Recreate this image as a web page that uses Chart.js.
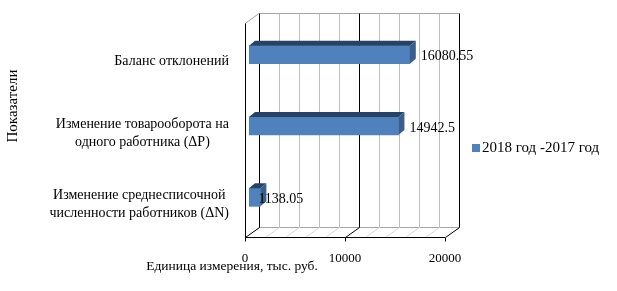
<!DOCTYPE html>
<html>
<head>
<meta charset="utf-8">
<script src="https://cdn.jsdelivr.net/npm/chart.js@4.4.0/dist/chart.umd.min.js"></script>
<style>
html, body { margin: 0; padding: 0; background: #fff; }
</style>
</head>
<body>
<canvas id="myChart" width="617" height="291"></canvas>
<script>
// data
var categories = [
	["Баланс отклонений"],
	["Изменение товарооборота на", "одного работника (ΔP)"],
	["Изменение среднесписочной", "численности работников (ΔN)"]
];
var seriesName = "2018 год -2017 год";
var values = [16080.55, 14942.5, 1138.05];
var valueLabels = ["16080.55", "14942.5", "1138.05"];
var xTicks = [0, 10000, 20000];
var xGridStep = 2000;
var xTitle = "Единица измерения, тыс. руб.";
var yTitle = "Показатели";

var FAMILY = '"Liberation Serif", "Times New Roman", serif';
var DX = 14, DY = 10;          // depth of the 3d box
var SHIFT_X = 4, SHIFT_Y = 4;  // bar front face offset inside the box
var BAR_DX = 6, BAR_DY = 5;    // bar depth

function seg(ctx, x1, y1, x2, y2, color) {
	ctx.strokeStyle = color;
	ctx.beginPath();
	ctx.moveTo(x1, y1);
	ctx.lineTo(x2, y2);
	ctx.stroke();
}

var box3d = {
	id: 'box3d',
	beforeDatasetsDraw: function (chart) {
		var ctx = chart.ctx, a = chart.chartArea, xs = chart.scales.x;
		var top = a.top + 0.5, bot = Math.round(a.bottom) + 0.5;
		ctx.save();
		ctx.lineWidth = 1;
		// back wall top and floor edges
		seg(ctx, a.left + DX, top - DY, a.right + DX, top - DY, '#a6a6a6');
		seg(ctx, a.left + DX, bot - DY, a.right + DX, bot - DY, '#a6a6a6');
		seg(ctx, a.left, top, a.left + DX, top - DY, '#a6a6a6');
		// gridlines on back wall + floor
		for (var v = 0; v <= xs.max; v += xGridStep) {
			var x = Math.round(xs.getPixelForValue(v)) + 0.5;
			var major = xTicks.indexOf(v) >= 0;
			seg(ctx, x + DX, top - DY, x + DX, bot - DY, major ? '#000' : '#bfbfbf');
			seg(ctx, x, bot, x + DX, bot - DY, major ? '#000' : '#d9d9d9');
			if (major) seg(ctx, x, bot, x, bot + 4, '#000');
		}
		// left wall and front floor edge
		seg(ctx, Math.round(a.left) + 0.5, top, Math.round(a.left) + 0.5, bot, '#000');
		seg(ctx, a.left, bot, a.right, bot, '#000');
		ctx.restore();

		ctx.save();
		ctx.translate(SHIFT_X, -SHIFT_Y);
	},
	afterDatasetsDraw: function (chart) {
		var ctx = chart.ctx;
		ctx.restore();
		var bars = chart.getDatasetMeta(0).data;
		ctx.save();
		ctx.translate(SHIFT_X, -SHIFT_Y);
		bars.forEach(function (b, i) {
			var x0 = b.base, x1 = b.x, y0 = b.y - b.height / 2, y1 = b.y + b.height / 2;
			// top face
			ctx.fillStyle = '#264266';
			ctx.beginPath();
			ctx.moveTo(x0, y0);
			ctx.lineTo(x0 + BAR_DX, y0 - BAR_DY);
			ctx.lineTo(x1 + BAR_DX, y0 - BAR_DY);
			ctx.lineTo(x1, y0);
			ctx.closePath();
			ctx.fill();
			// side face
			ctx.fillStyle = '#3a5f8c';
			ctx.beginPath();
			ctx.moveTo(x1, y0);
			ctx.lineTo(x1 + BAR_DX, y0 - BAR_DY);
			ctx.lineTo(x1 + BAR_DX, y1 - BAR_DY);
			ctx.lineTo(x1, y1);
			ctx.closePath();
			ctx.fill();
			// value label
			ctx.fillStyle = '#000';
			ctx.font = '14px ' + FAMILY;
			ctx.textAlign = 'left';
			ctx.textBaseline = 'middle';
			var lx = (x1 - x0 < 30) ? x1 - 2 : x1 + BAR_DX + 5;
			ctx.fillText(valueLabels[i], lx, b.y + 2);
		});
		ctx.restore();
	},
	afterDraw: function (chart) {
		var ctx = chart.ctx, a = chart.chartArea, ys = chart.scales.y;
		ctx.save();
		ctx.fillStyle = '#000';
		ctx.font = '14px ' + FAMILY;
		ctx.textBaseline = 'middle';
		ctx.textAlign = 'center';
		// category labels: block right aligned, lines centred
		var right = a.left - 16;
		categories.forEach(function (lines, i) {
			var w = 0;
			lines.forEach(function (t) { w = Math.max(w, ctx.measureText(t).width); });
			var cy = ys.getPixelForValue(i) + 3;
			lines.forEach(function (t, j) {
				ctx.fillText(t, right - w / 2, cy + (j - (lines.length - 1) / 2) * 18);
			});
		});
		// axis titles
		ctx.font = '13.5px ' + FAMILY;
		ctx.fillText(xTitle, 232, 266);
		ctx.font = '15px ' + FAMILY;
		ctx.save();
		ctx.translate(13, 106);
		ctx.rotate(-Math.PI / 2);
		ctx.fillText(yTitle, 0, 0);
		ctx.restore();
		// legend
		ctx.fillStyle = '#4f81bd';
		ctx.fillRect(472, 144, 8, 8);
		ctx.fillStyle = '#000';
		ctx.textAlign = 'left';
		ctx.fillText(seriesName, 482, 148);
		ctx.restore();
	}
};

var ctx = document.getElementById("myChart").getContext('2d');
var myChart = new Chart(ctx, {
	type: 'bar',
	data: {
		labels: categories,
		datasets: [{
			label: seriesName,
			data: values,
			backgroundColor: '#4f81bd',
			barThickness: 18
		}]
	},
	options: {
		indexAxis: 'y',
		responsive: false,
		animation: false,
		layout: { padding: { left: 245, right: 172, top: 23, bottom: 0 } },
		plugins: {
			legend: { display: false },
			tooltip: { enabled: false }
		},
		scales: {
			x: {
				min: 0,
				max: 20000,
				grid: { display: false },
				border: { display: false },
				ticks: {
					stepSize: 10000,
					padding: 6,
					color: '#000',
					font: { family: FAMILY, size: 13 },
					callback: function (v) { return String(v); }
				},
				afterFit: function (s) { s.height = 54; }
			},
			y: { display: false }
		}
	},
	plugins: [box3d]
});
</script>
</body>
</html>
